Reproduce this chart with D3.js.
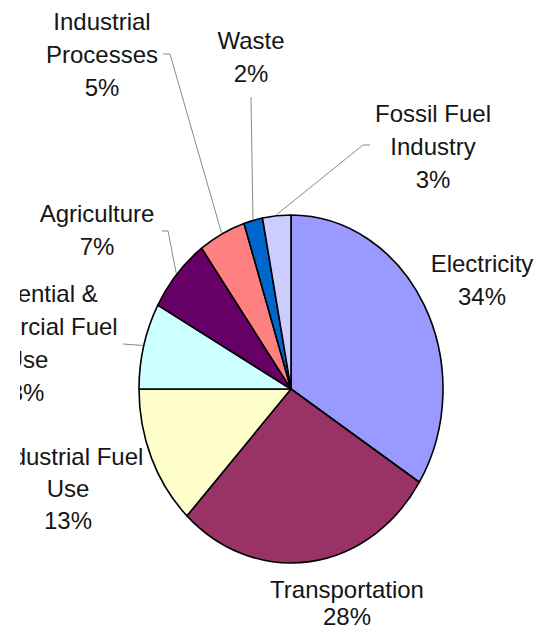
<!DOCTYPE html>
<html>
<head>
<meta charset="utf-8">
<script src="https://cdn.jsdelivr.net/npm/d3@7"></script>
<style>
  html, body { margin: 0; padding: 0; background: #fff; }
  svg { display: block; }
  text { font-family: "Liberation Sans", Arial, sans-serif; fill: #151515; }
</style>
</head>
<body>
<svg id="chart" width="544" height="637"></svg>
<script>
// ---- data ----
const categories = ["Electricity", "Transportation", "Industrial Fuel Use",
  "Residential & Commercial Fuel Use", "Agriculture", "Industrial Processes",
  "Waste", "Fossil Fuel Industry"];
const values = [34, 28, 13, 8, 7, 5, 2, 3];
const labelLines = [
  ["Electricity"],
  ["Transportation"],
  ["Industrial Fuel", "Use"],
  ["Residential &", "Commercial Fuel", "Use"],
  ["Agriculture"],
  ["Industrial", "Processes"],
  ["Waste"],
  ["Fossil Fuel", "Industry"]
];
const colors = ["#9999ff", "#993366", "#ffffcc", "#ccffff", "#660066", "#ff8080", "#0066cc", "#ccccff"];

// ---- layout (label anchors, first baseline, leader elbows) ----
const cx = 291, cy = 389, R = 152, yScale = 174 / 152;
const lineH = 33;
const clipLeft = 20; // the source picture is cropped at this x
const labelLayout = [
  { x: 482, y: 272, leader: null },
  { x: 347, y: 598, lineH: 27, leader: null },
  { x: 68, y: 465, lineH: 32, leader: null },
  { x: 27, y: 302, leader: [[123, 344]] },
  { x: 97, y: 222, leader: [[162, 231], [168, 231]] },
  { x: 102, y: 30, leader: [[163, 54], [170, 54]] },
  { x: 251, y: 49, leader: [[251, 97]] },
  { x: 433, y: 122, leader: [[370, 145], [363, 145]] }
];

const svg = d3.select("#chart");
svg.append("defs").append("clipPath").attr("id", "crop")
  .append("rect").attr("x", clipLeft).attr("y", 0)
  .attr("width", 544 - clipLeft).attr("height", 637);

const pie = d3.pie().sort(null).value(d => d).startAngle(0).endAngle(2 * Math.PI);
const arcs = pie(values);
const arc = d3.arc().innerRadius(0).outerRadius(R);

// leader lines
const edgePoint = (a, r) => [cx + r * Math.sin(a), cy - r * Math.cos(a) * yScale];
const lineGen = d3.line();
arcs.forEach((d, i) => {
  const L = labelLayout[i];
  if (!L.leader) return;
  const mid = (d.startAngle + d.endAngle) / 2;
  const pts = L.leader.concat([edgePoint(mid, R + 1)]);
  svg.append("path")
    .attr("d", lineGen(pts))
    .attr("fill", "none")
    .attr("stroke", "#8a8a8a")
    .attr("stroke-width", 1);
});

// pie
const g = svg.append("g").attr("transform", `translate(${cx},${cy}) scale(1,${yScale})`);
g.selectAll("path.slice")
  .data(arcs)
  .join("path")
  .attr("class", "slice")
  .attr("d", arc)
  .attr("fill", (d, i) => colors[i])
  .attr("stroke", "#000")
  .attr("stroke-width", 1.6)
  .attr("stroke-linejoin", "round")
  .attr("vector-effect", "non-scaling-stroke");

// labels
const total = d3.sum(values);
const labels = svg.append("g").attr("clip-path", "url(#crop)");
labelLines.forEach((lines, i) => {
  const L = labelLayout[i];
  const lh = L.lineH || lineH;
  const all = lines.concat([Math.round(values[i] / total * 100) + "%"]);
  const t = labels.append("text")
    .attr("text-anchor", "middle")
    .attr("font-size", 24);
  all.forEach((s, k) => {
    t.append("tspan").attr("x", L.x).attr("y", L.y + k * lh).text(s);
  });
});
</script>
</body>
</html>
